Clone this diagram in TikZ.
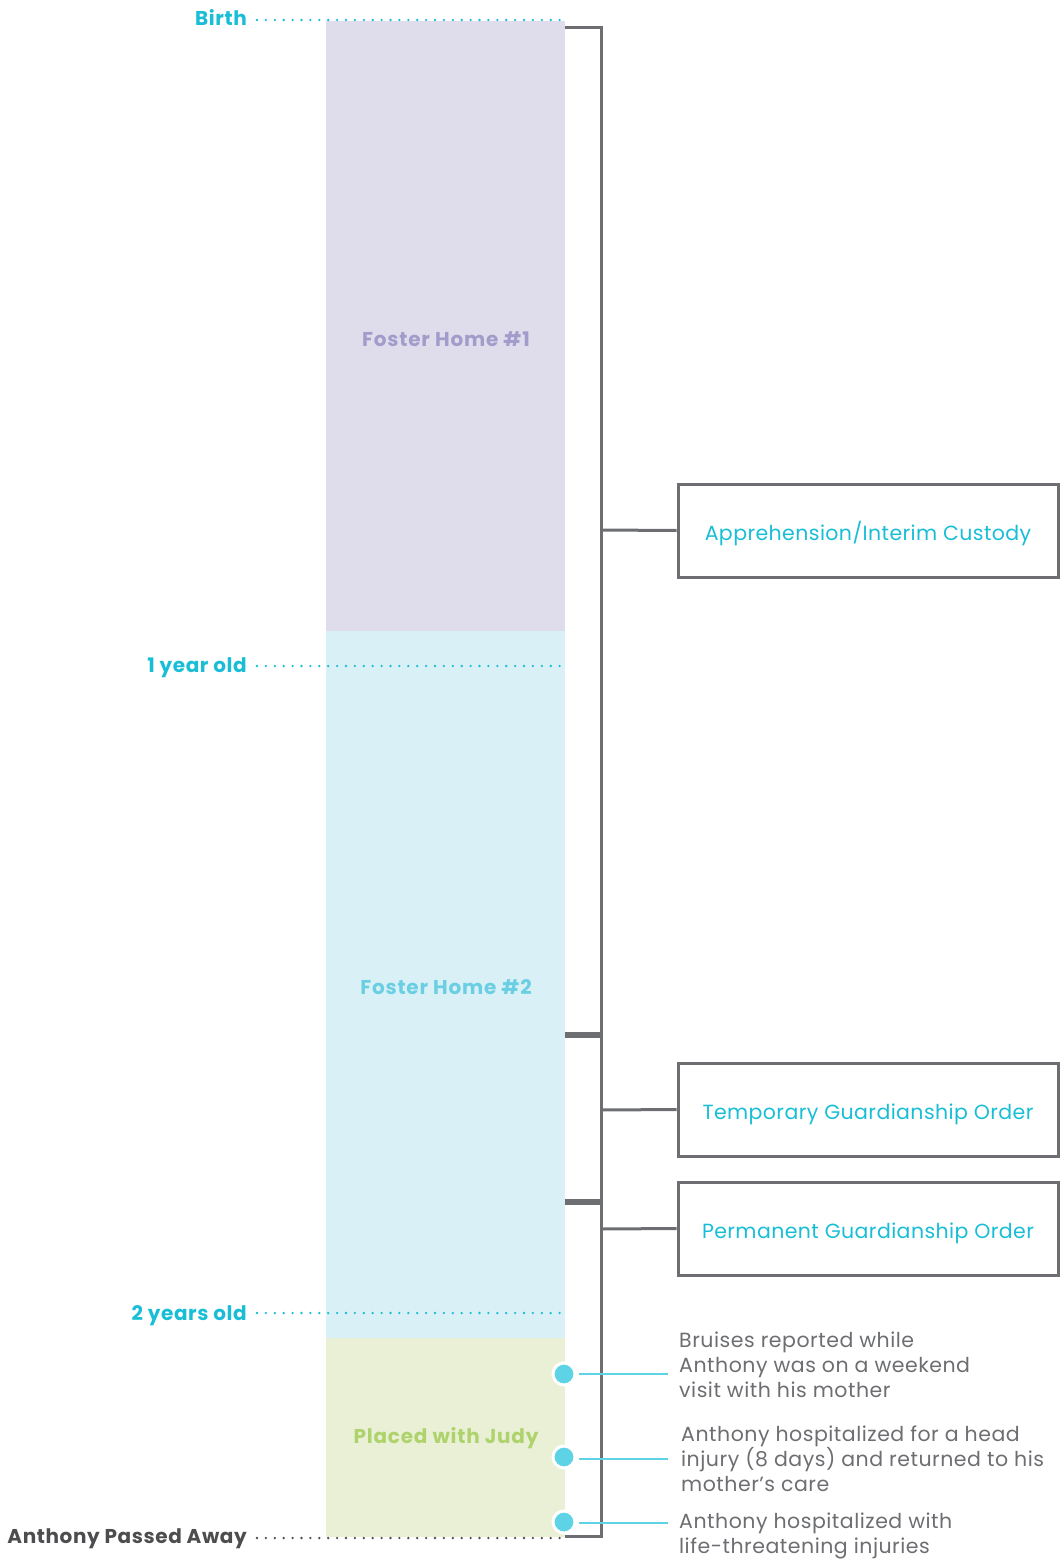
\documentclass[tikz,border=0pt]{standalone}
\usepackage{fontspec}
\setmainfont{Poppins}
\usetikzlibrary{positioning}
\definecolor{tealtxt}{HTML}{19BED6}
\definecolor{lineGray}{HTML}{6D6E71}
\definecolor{darkGray}{HTML}{4D4D4F}
\definecolor{homeOneFill}{HTML}{DFDCEC}
\definecolor{homeOneTxt}{HTML}{A29CCB}
\definecolor{homeTwoFill}{HTML}{DAF0F7}
\definecolor{homeTwoTxt}{HTML}{6ACFE2}
\definecolor{judyFill}{HTML}{E9F0D5}
\definecolor{judyTxt}{HTML}{AED36C}
\definecolor{dotCyan}{HTML}{5ED3E5}

\tikzset{
  agelabel/.style={anchor=base east, inner sep=0pt, text=tealtxt,
    font=\fontsize{20}{22}\selectfont\bfseries\addfontfeatures{LetterSpace=3}},
  ageline/.style={draw=tealtxt, line width=2.6pt, line cap=round,
    dash pattern=on 0pt off 8.9pt},
  homelabel/.style={inner sep=0pt,
    font=\fontsize{20}{22}\selectfont\bfseries\addfontfeatures{LetterSpace=4}},
  bracket/.style={draw=lineGray, line width=3pt},
  orderbox/.style={draw=lineGray, line width=3pt, minimum width=380pt,
    minimum height=93pt, text=tealtxt, text height=20pt, text depth=0pt,
    font=\fontsize{20.5}{24}\selectfont\addfontfeatures{LetterSpace=2}},
  eventdot/.style={circle, fill=dotCyan, draw=white, line width=3pt,
    minimum size=22pt, inner sep=0pt},
  eventline/.style={draw=dotCyan, line width=2.4pt},
  eventtext/.style={anchor=base west, inner sep=0pt, align=left, text=lineGray,
    font=\fontsize{20.5}{25}\selectfont\addfontfeatures{LetterSpace=2.5}}
}

\begin{document}
\begin{tikzpicture}[x=1pt,y=-1pt]
  %%%%% START %%%%%
  \useasboundingbox (0,0) rectangle (1060,1562);

  % the three stays
  \fill[homeOneFill] (326,21) rectangle (565,631);
  \fill[homeTwoFill] (326,631) rectangle (565,1338);
  \fill[judyFill] (326,1338) rectangle (565,1537);
  \node[homelabel, text=homeOneTxt] (homeone) at (446,339) {Foster Home \#1};
  \node[homelabel, text=homeTwoTxt] (hometwo) at (446,987) {Foster Home \#2};
  \node[homelabel, text=judyTxt] (judy) at (446,1438) {Placed with Judy};

  % ages
  \node[agelabel] (birth) at (247,26) {Birth};
  \draw[ageline] (257,20) -- (562,20);
  \node[agelabel] (yearone) at (247,672) {1 year old};
  \draw[ageline] (257,666) -- (562,666);
  \node[agelabel] (yeartwo) at (247,1320) {2 years old};
  \draw[ageline] (257,1313) -- (562,1313);
  \node[agelabel, text=darkGray] (passed) at (247,1543) {Anthony Passed Away};
  \draw[ageline, draw=darkGray] (257,1538) -- (562,1538);

  % orders
  \draw[bracket] (565,28) -| (601,1033) -- (565,1033);
  \draw[bracket] (565,1036) -| (601,1200) -- (565,1200);
  \draw[bracket] (565,1203) -| (601,1536) -- (565,1536);
  \coordinate (bone) at (601,530);
  \coordinate (btwo) at (601,1110);
  \coordinate (bthree) at (601,1229);

  \node[orderbox] (custody) at (868,530.5) {Apprehension/Interim Custody};
  \node[orderbox] (temporary) at (868,1109.5) {Temporary Guardianship Order};
  \node[orderbox] (permanent) at (868,1228.5) {Permanent Guardianship Order};
  \draw[bracket] (bone) -- (custody.west);
  \draw[bracket] (btwo) -- (temporary.west);
  \draw[bracket] (bthree) -- (permanent.west);

  % events
  \node[eventdot] (bruises) at (564,1374) {};
  \node[eventdot] (headinjury) at (564,1457) {};
  \node[eventdot] (critical) at (564,1522) {};
  \coordinate (bruisesend) at (668,1374);
  \coordinate (headend) at (668,1459);
  \coordinate (criticalend) at (668,1523);
  \draw[eventline] (bruises.east) ++(2,0) -- (bruisesend);
  \draw[eventline] (headinjury.east) ++(2,2) -- (headend);
  \draw[eventline] (critical.east) ++(2,1) -- (criticalend);

  % base of a multi-line node is its last line
  \node[eventtext] (bruisestxt) at (679,1397)
    {Bruises reported while\\Anthony was on a weekend\\visit with his mother};
  \node[eventtext] (headtxt) at (681,1491)
    {Anthony hospitalized for a head\\injury (8 days) and returned to his\\mother’s care};
  \node[eventtext] (criticaltxt) at (679,1553)
    {Anthony hospitalized with\\life-threatening injuries};
  %%%%% END %%%%%
\end{tikzpicture}
\end{document}
